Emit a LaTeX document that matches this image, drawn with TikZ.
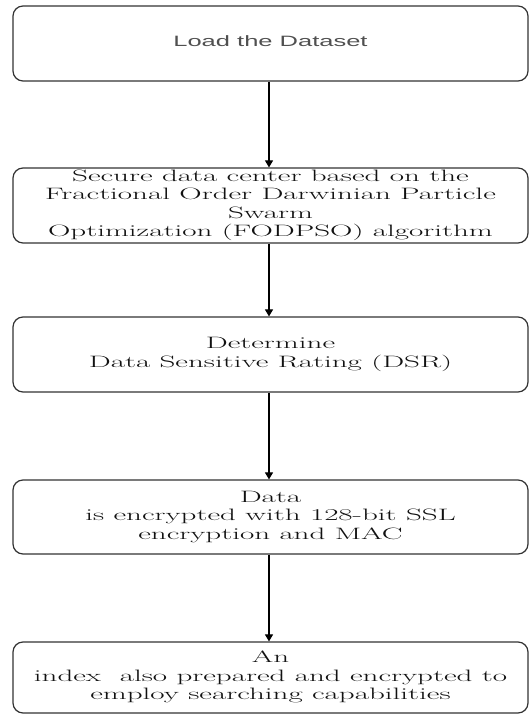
\documentclass[tikz,border=0pt]{standalone}
\usepackage{fontspec}
\usepackage{graphicx}
\usetikzlibrary{arrows.meta}
\setsansfont{Liberation Sans}
\definecolor{edge}{HTML}{333333}
\definecolor{sanstext}{HTML}{505050}
\definecolor{seriftext}{HTML}{111111}
\newcommand{\wideserif}[1]{\scalebox{1.88}[1]{\setlength{\tabcolsep}{0pt}\begin{tabular}{c}#1\end{tabular}}}
\newcommand{\widesans}[1]{\scalebox{1.7}[1]{\setlength{\tabcolsep}{0pt}\begin{tabular}{c}#1\end{tabular}}}
\tikzset{
  flowbox/.style={draw=edge, line width=1.2pt, rounded corners=10pt, rectangle,
    minimum width=515pt, inner sep=0pt, align=center, text=seriftext,
    font=\rmfamily\fontsize{16.5}{18.5}\selectfont},
  sansbox/.style={flowbox, text=sanstext, font=\sffamily\fontsize{15}{17}\selectfont},
  flowarrow/.style={draw=black, line width=1.2pt, -{Triangle[width=8pt,length=7pt]}}
}
\begin{document}
\begin{tikzpicture}[x=1pt,y=1pt]
\useasboundingbox (0,0) rectangle (529,715);
\node[sansbox, minimum height=75pt] (b1) at (270.5,671.5) {\widesans{Load the Dataset}};
\node[flowbox, minimum height=75pt] (b2) at (270.5,509.5) {\wideserif{Secure data center based on the\\Fractional Order Darwinian Particle\\Swarm\\Optimization (FODPSO) algorithm}};
\node[flowbox, minimum height=75pt] (b3) at (270.5,360.5) {\wideserif{Determine\\Data Sensitive Rating (DSR)}};
\node[flowbox, minimum height=74pt] (b4) at (270.5,198) {\wideserif{Data\\is encrypted with 128-bit SSL\\encryption and MAC}};
\node[flowbox, minimum height=71pt] (b5) at (270.5,37.5) {\wideserif{An\\index\ \ also prepared and encrypted to\\employ searching capabilities}};
\draw[flowarrow] (b1.south -| 269,0) -- (b2.north -| 269,0);
\draw[flowarrow] (b2.south -| 269,0) -- (b3.north -| 269,0);
\draw[flowarrow] (b3.south -| 269,0) -- (b4.north -| 269,0);
\draw[flowarrow] (b4.south -| 269,0) -- (b5.north -| 269,0);
\end{tikzpicture}
\end{document}
